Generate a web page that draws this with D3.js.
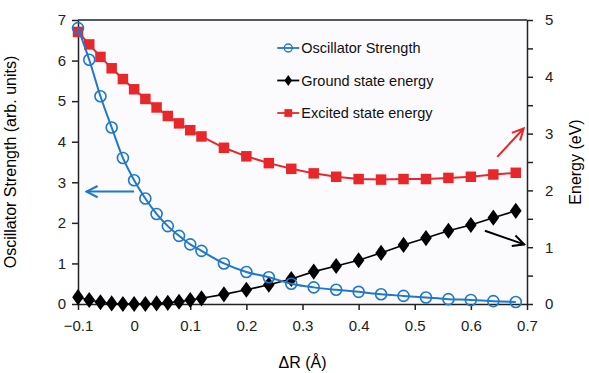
<!DOCTYPE html>
<html>
<head>
<meta charset="utf-8">
<script src="https://cdn.jsdelivr.net/npm/d3@7"></script>
<style>
  body { margin: 0; background: #fff; }
  svg { font-family: "Liberation Sans", Arial, sans-serif; }
  .axis text { font-size: 15px; fill: #222; }
  .axis path, .axis line { stroke: #222; stroke-width: 1.5px; }
</style>
</head>
<body>
<svg id="chart"></svg>
<script>
// data
const dR = [-0.1, -0.08, -0.06, -0.04, -0.02, 0, 0.02, 0.04, 0.06, 0.08, 0.10, 0.12,
  0.16, 0.20, 0.24, 0.28, 0.32, 0.36, 0.40, 0.44, 0.48, 0.52, 0.56, 0.60, 0.64, 0.68];
const oscStrength = [6.8, 6.02, 5.12, 4.35, 3.6, 3.05, 2.6, 2.22, 1.92, 1.68, 1.47, 1.31,
  1.0, 0.79, 0.66, 0.5, 0.41, 0.35, 0.3, 0.24, 0.2, 0.16, 0.12, 0.1, 0.07, 0.05];
const groundEnergy = [0.12, 0.07, 0.03, 0.01, 0.0, 0.0, 0.0, 0.01, 0.02, 0.04, 0.07, 0.1,
  0.17, 0.25, 0.34, 0.44, 0.57, 0.67, 0.77, 0.90, 1.04, 1.16, 1.29, 1.39, 1.52, 1.64];
const excitedEnergy = [4.79, 4.57, 4.35, 4.15, 3.96, 3.78, 3.61, 3.46, 3.31, 3.18, 3.06, 2.95,
  2.75, 2.60, 2.48, 2.38, 2.30, 2.24, 2.20, 2.19, 2.20, 2.20, 2.22, 2.24, 2.28, 2.31];
const xTicks = [-0.1, 0, 0.1, 0.2, 0.3, 0.4, 0.5, 0.6, 0.7];
const leftTicks = [0, 1, 2, 3, 4, 5, 6, 7];
const rightTicks = [0, 1, 2, 3, 4, 5];
const legendNames = ['Oscillator Strength', 'Ground state energy', 'Excited state energy'];

const WIDTH = 589, HEIGHT = 373;
const margin = {top: 20, right: 62, bottom: 69, left: 78};
const width = WIDTH - margin.left - margin.right,
  height = HEIGHT - margin.top - margin.bottom;

const BLUE = '#1f78c8', RED = '#e8272b', BLACK = '#000';

const x = d3.scaleLinear().domain([-0.1, 0.7]).range([0, width]);
const yL = d3.scaleLinear().domain([0, 7]).range([height, 0]);
const yR = d3.scaleLinear().domain([0, 5]).range([height, 0]);

const svg = d3.select('#chart')
  .attr('width', WIDTH)
  .attr('height', HEIGHT)
  .append('g')
  .attr('transform', `translate(${margin.left},${margin.top})`);

svg.append('rect')
  .attr('width', width).attr('height', height)
  .attr('fill', '#fbfbfe');

// top border
svg.append('line')
  .attr('x1', 0).attr('x2', width).attr('y1', 0).attr('y2', 0)
  .attr('stroke', '#222').attr('stroke-width', 1.5);

svg.append('g')
  .attr('class', 'axis')
  .attr('transform', `translate(0,${height})`)
  .call(d3.axisBottom(x).tickValues(xTicks).tickSize(6).tickSizeOuter(0)
    .tickFormat(d => d === 0 ? '0' : d3.format('.1f')(d)))
  .call(g => g.selectAll('text').attr('dy', '1.2em'));

svg.append('g')
  .attr('class', 'axis')
  .call(d3.axisLeft(yL).tickValues(leftTicks).tickSize(6).tickSizeOuter(0)
    .tickFormat(d3.format('d')))
  .call(g => g.selectAll('text').attr('x', -12));

svg.append('g')
  .attr('class', 'axis')
  .attr('transform', `translate(${width},0)`)
  .call(d3.axisRight(yR).tickValues(d3.range(0, 5.01, 0.5)).tickSize(6).tickSizeOuter(0)
    .tickFormat(d => rightTicks.includes(d) ? d : ''))
  .call(g => g.selectAll('text').attr('x', 18));

// axis titles
svg.append('text')
  .attr('transform', `translate(${-62},${height / 2}) rotate(-90)`)
  .attr('text-anchor', 'middle')
  .attr('font-size', 16)
  .text('Oscillator Strength (arb. units)');

svg.append('text')
  .attr('transform', `translate(${width + 54},${height / 2}) rotate(-90)`)
  .attr('text-anchor', 'middle')
  .attr('font-size', 16)
  .text('Energy (eV)');

svg.append('text')
  .attr('x', width / 2).attr('y', height + 64)
  .attr('text-anchor', 'middle')
  .attr('font-size', 16)
  .text('\u0394R (\u00c5)');

const rows = dR.map((d, i) => ({x: d, osc: oscStrength[i], gr: groundEnergy[i], ex: excitedEnergy[i]}));

const lineOsc = d3.line().x(d => x(d.x)).y(d => yL(d.osc)).curve(d3.curveMonotoneX);
const lineGr = d3.line().x(d => x(d.x)).y(d => yR(d.gr));
const lineEx = d3.line().x(d => x(d.x)).y(d => yR(d.ex));

const diamond = d3.symbol().type(d3.symbolDiamond).size(75);
const square = d3.symbol().type(d3.symbolSquare).size(110);

// excited state
svg.append('path').attr('d', lineEx(rows)).attr('fill', 'none')
  .attr('stroke', RED).attr('stroke-width', 2);
svg.selectAll('.ex').data(rows).enter().append('path')
  .attr('class', 'ex')
  .attr('transform', d => `translate(${x(d.x)},${yR(d.ex)})`)
  .attr('d', square).attr('fill', RED);

// ground state
svg.append('path').attr('d', lineGr(rows)).attr('fill', 'none')
  .attr('stroke', BLACK).attr('stroke-width', 1.6);
svg.selectAll('.gr').data(rows).enter().append('path')
  .attr('class', 'gr')
  .attr('transform', d => `translate(${x(d.x)},${yR(d.gr)}) scale(1.25,1)`)
  .attr('d', diamond).attr('fill', BLACK);

// oscillator strength
svg.append('path').attr('d', lineOsc(rows)).attr('fill', 'none')
  .attr('stroke', BLUE).attr('stroke-width', 2);
svg.selectAll('.osc').data(rows).enter().append('circle')
  .attr('class', 'osc')
  .attr('cx', d => x(d.x)).attr('cy', d => yL(d.osc))
  .attr('r', 5.5)
  .attr('fill', 'none').attr('stroke', BLUE).attr('stroke-width', 1.6);

// arrows (data coordinates)
const defs = svg.append('defs');
[['blue', BLUE], ['red', RED], ['black', BLACK]].forEach(([n, c]) => {
  defs.append('marker')
    .attr('id', 'arr-' + n)
    .attr('viewBox', '0 0 10 10')
    .attr('refX', 9).attr('refY', 5)
    .attr('markerWidth', 7).attr('markerHeight', 7)
    .attr('orient', 'auto')
    .append('path')
    .attr('d', 'M1,1 L9,5 L1,9')
    .attr('fill', 'none').attr('stroke', c).attr('stroke-width', 1.5);
});
const arrows = [
  {x1: 0.0, y1: yL(2.77), x2: -0.085, y2: yL(2.77), c: BLUE, m: 'blue'},
  {x1: 0.647, y1: yR(2.59), x2: 0.694, y2: yR(3.09), c: RED, m: 'red'},
  {x1: 0.625, y1: yR(1.29), x2: 0.695, y2: yR(1.05), c: BLACK, m: 'black'}
];
svg.selectAll('.arrow').data(arrows).enter().append('line')
  .attr('class', 'arrow')
  .attr('x1', d => x(d.x1)).attr('y1', d => d.y1)
  .attr('x2', d => x(d.x2)).attr('y2', d => d.y2)
  .attr('stroke', d => d.c).attr('stroke-width', 2)
  .attr('marker-end', d => `url(#arr-${d.m})`);

// legend
const legend = svg.append('g').attr('transform', `translate(${x(0.255)},${28})`);
const legColors = [BLUE, BLACK, RED];
legendNames.forEach((name, i) => {
  const g = legend.append('g').attr('transform', `translate(0,${i * 32.5})`);
  g.append('line').attr('x1', 0).attr('x2', 22).attr('y1', 0).attr('y2', 0)
    .attr('stroke', legColors[i]).attr('stroke-width', 1.8);
  if (i === 0) {
    g.append('circle').attr('cx', 11).attr('cy', 0).attr('r', 4)
      .attr('fill', 'none').attr('stroke', BLUE).attr('stroke-width', 1.4);
  } else if (i === 1) {
    g.append('path').attr('transform', 'translate(11,0) scale(1.2,1)')
      .attr('d', d3.symbol().type(d3.symbolDiamond).size(35)).attr('fill', BLACK);
  } else {
    g.append('path').attr('transform', 'translate(11,0)')
      .attr('d', d3.symbol().type(d3.symbolSquare).size(60)).attr('fill', RED);
  }
  g.append('text').attr('x', 24).attr('y', 0).attr('dy', '0.35em')
    .attr('font-size', 14.5).attr('fill', '#111').text(name);
});
</script>
</body>
</html>
